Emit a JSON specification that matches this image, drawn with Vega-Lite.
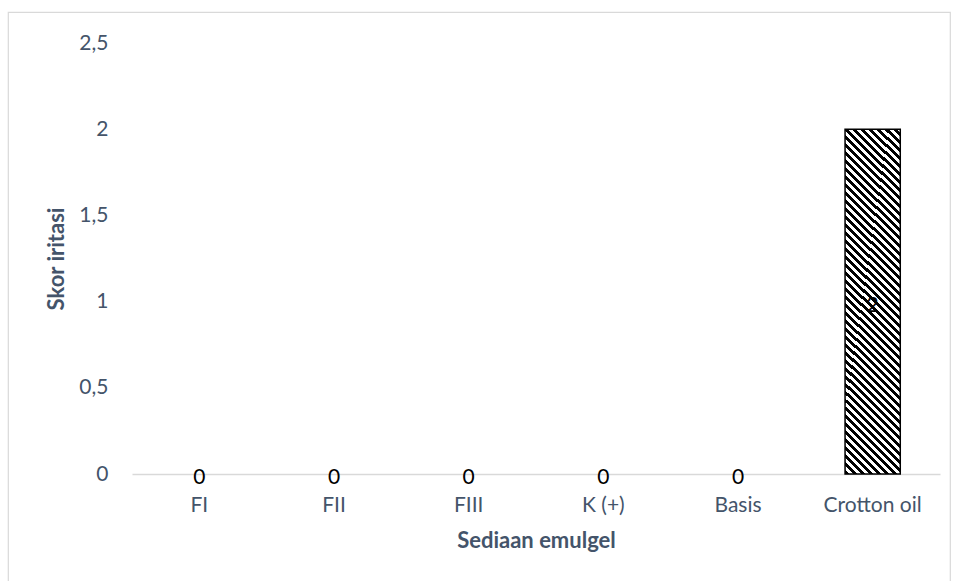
{
  "$schema": "https://vega.github.io/schema/vega-lite/v6.json",
  "autosize": "none",
  "padding": {"left": 8, "top": 12, "right": 5, "bottom": 0},
  "width": 942,
  "height": 575,
  "background": "#ffffff",
  "config": {
    "view": {"stroke": "#D9D9D9", "strokeWidth": 1.2},
    "font": "Lato",
    "axis": {"grid": false, "ticks": false, "tickSize": 0, "labelFont": "Lato", "titleFont": "Lato"}
  },
  "data": {
    "values": [
      {"sediaan": "FI", "skor": 0},
      {"sediaan": "FII", "skor": 0},
      {"sediaan": "FIII", "skor": 0},
      {"sediaan": "K (+)", "skor": 0},
      {"sediaan": "Basis", "skor": 0},
      {"sediaan": "Crotton oil", "skor": 2}
    ]
  },
  "encoding": {
    "x": {
      "field": "sediaan",
      "type": "nominal",
      "sort": null,
      "scale": {"range": [124, 932], "paddingInner": 0.59, "paddingOuter": 0.295},
      "axis": {
        "title": "Sediaan emulgel",
        "orient": "bottom",
        "offset": -113,
        "labelAngle": 0,
        "labelFontSize": 21,
        "labelColor": "#44546A",
        "labelPadding": 20,
        "domainColor": "#D9D9D9",
        "domainWidth": 1.5,
        "titleFontSize": 22,
        "titleFontWeight": "bold",
        "titleColor": "#44546A",
        "titlePadding": 15
      }
    }
  },
  "layer": [
    {
      "mark": {
        "type": "bar",
        "stroke": "#000000",
        "strokeWidth": 1.5,
        "color": {
          "gradient": "linear",
          "x1": 0, "y1": 1, "x2": 0.1797, "y2": -0.1304,
          "stops": [
{"offset":0,"color":"#000"},{"offset":0.01,"color":"#000"},{"offset":0.01,"color":"#fff"},{"offset":0.02,"color":"#fff"},
{"offset":0.02,"color":"#000"},{"offset":0.03,"color":"#000"},{"offset":0.03,"color":"#fff"},{"offset":0.04,"color":"#fff"},
{"offset":0.04,"color":"#000"},{"offset":0.05,"color":"#000"},{"offset":0.05,"color":"#fff"},{"offset":0.06,"color":"#fff"},
{"offset":0.06,"color":"#000"},{"offset":0.07,"color":"#000"},{"offset":0.07,"color":"#fff"},{"offset":0.08,"color":"#fff"},
{"offset":0.08,"color":"#000"},{"offset":0.09,"color":"#000"},{"offset":0.09,"color":"#fff"},{"offset":0.10,"color":"#fff"},
{"offset":0.10,"color":"#000"},{"offset":0.11,"color":"#000"},{"offset":0.11,"color":"#fff"},{"offset":0.12,"color":"#fff"},
{"offset":0.12,"color":"#000"},{"offset":0.13,"color":"#000"},{"offset":0.13,"color":"#fff"},{"offset":0.14,"color":"#fff"},
{"offset":0.14,"color":"#000"},{"offset":0.15,"color":"#000"},{"offset":0.15,"color":"#fff"},{"offset":0.16,"color":"#fff"},
{"offset":0.16,"color":"#000"},{"offset":0.17,"color":"#000"},{"offset":0.17,"color":"#fff"},{"offset":0.18,"color":"#fff"},
{"offset":0.18,"color":"#000"},{"offset":0.19,"color":"#000"},{"offset":0.19,"color":"#fff"},{"offset":0.20,"color":"#fff"},
{"offset":0.20,"color":"#000"},{"offset":0.21,"color":"#000"},{"offset":0.21,"color":"#fff"},{"offset":0.22,"color":"#fff"},
{"offset":0.22,"color":"#000"},{"offset":0.23,"color":"#000"},{"offset":0.23,"color":"#fff"},{"offset":0.24,"color":"#fff"},
{"offset":0.24,"color":"#000"},{"offset":0.25,"color":"#000"},{"offset":0.25,"color":"#fff"},{"offset":0.26,"color":"#fff"},
{"offset":0.26,"color":"#000"},{"offset":0.27,"color":"#000"},{"offset":0.27,"color":"#fff"},{"offset":0.28,"color":"#fff"},
{"offset":0.28,"color":"#000"},{"offset":0.29,"color":"#000"},{"offset":0.29,"color":"#fff"},{"offset":0.30,"color":"#fff"},
{"offset":0.30,"color":"#000"},{"offset":0.31,"color":"#000"},{"offset":0.31,"color":"#fff"},{"offset":0.32,"color":"#fff"},
{"offset":0.32,"color":"#000"},{"offset":0.33,"color":"#000"},{"offset":0.33,"color":"#fff"},{"offset":0.34,"color":"#fff"},
{"offset":0.34,"color":"#000"},{"offset":0.35,"color":"#000"},{"offset":0.35,"color":"#fff"},{"offset":0.36,"color":"#fff"},
{"offset":0.36,"color":"#000"},{"offset":0.37,"color":"#000"},{"offset":0.37,"color":"#fff"},{"offset":0.38,"color":"#fff"},
{"offset":0.38,"color":"#000"},{"offset":0.39,"color":"#000"},{"offset":0.39,"color":"#fff"},{"offset":0.40,"color":"#fff"},
{"offset":0.40,"color":"#000"},{"offset":0.41,"color":"#000"},{"offset":0.41,"color":"#fff"},{"offset":0.42,"color":"#fff"},
{"offset":0.42,"color":"#000"},{"offset":0.43,"color":"#000"},{"offset":0.43,"color":"#fff"},{"offset":0.44,"color":"#fff"},
{"offset":0.44,"color":"#000"},{"offset":0.45,"color":"#000"},{"offset":0.45,"color":"#fff"},{"offset":0.46,"color":"#fff"},
{"offset":0.46,"color":"#000"},{"offset":0.47,"color":"#000"},{"offset":0.47,"color":"#fff"},{"offset":0.48,"color":"#fff"},
{"offset":0.48,"color":"#000"},{"offset":0.49,"color":"#000"},{"offset":0.49,"color":"#fff"},{"offset":0.50,"color":"#fff"},
{"offset":0.50,"color":"#000"},{"offset":0.51,"color":"#000"},{"offset":0.51,"color":"#fff"},{"offset":0.52,"color":"#fff"},
{"offset":0.52,"color":"#000"},{"offset":0.53,"color":"#000"},{"offset":0.53,"color":"#fff"},{"offset":0.54,"color":"#fff"},
{"offset":0.54,"color":"#000"},{"offset":0.55,"color":"#000"},{"offset":0.55,"color":"#fff"},{"offset":0.56,"color":"#fff"},
{"offset":0.56,"color":"#000"},{"offset":0.57,"color":"#000"},{"offset":0.57,"color":"#fff"},{"offset":0.58,"color":"#fff"},
{"offset":0.58,"color":"#000"},{"offset":0.59,"color":"#000"},{"offset":0.59,"color":"#fff"},{"offset":0.60,"color":"#fff"},
{"offset":0.60,"color":"#000"},{"offset":0.61,"color":"#000"},{"offset":0.61,"color":"#fff"},{"offset":0.62,"color":"#fff"},
{"offset":0.62,"color":"#000"},{"offset":0.63,"color":"#000"},{"offset":0.63,"color":"#fff"},{"offset":0.64,"color":"#fff"},
{"offset":0.64,"color":"#000"},{"offset":0.65,"color":"#000"},{"offset":0.65,"color":"#fff"},{"offset":0.66,"color":"#fff"},
{"offset":0.66,"color":"#000"},{"offset":0.67,"color":"#000"},{"offset":0.67,"color":"#fff"},{"offset":0.68,"color":"#fff"},
{"offset":0.68,"color":"#000"},{"offset":0.69,"color":"#000"},{"offset":0.69,"color":"#fff"},{"offset":0.70,"color":"#fff"},
{"offset":0.70,"color":"#000"},{"offset":0.71,"color":"#000"},{"offset":0.71,"color":"#fff"},{"offset":0.72,"color":"#fff"},
{"offset":0.72,"color":"#000"},{"offset":0.73,"color":"#000"},{"offset":0.73,"color":"#fff"},{"offset":0.74,"color":"#fff"},
{"offset":0.74,"color":"#000"},{"offset":0.75,"color":"#000"},{"offset":0.75,"color":"#fff"},{"offset":0.76,"color":"#fff"},
{"offset":0.76,"color":"#000"},{"offset":0.77,"color":"#000"},{"offset":0.77,"color":"#fff"},{"offset":0.78,"color":"#fff"},
{"offset":0.78,"color":"#000"},{"offset":0.79,"color":"#000"},{"offset":0.79,"color":"#fff"},{"offset":0.80,"color":"#fff"},
{"offset":0.80,"color":"#000"},{"offset":0.81,"color":"#000"},{"offset":0.81,"color":"#fff"},{"offset":0.82,"color":"#fff"},
{"offset":0.82,"color":"#000"},{"offset":0.83,"color":"#000"},{"offset":0.83,"color":"#fff"},{"offset":0.84,"color":"#fff"},
{"offset":0.84,"color":"#000"},{"offset":0.85,"color":"#000"},{"offset":0.85,"color":"#fff"},{"offset":0.86,"color":"#fff"},
{"offset":0.86,"color":"#000"},{"offset":0.87,"color":"#000"},{"offset":0.87,"color":"#fff"},{"offset":0.88,"color":"#fff"},
{"offset":0.88,"color":"#000"},{"offset":0.89,"color":"#000"},{"offset":0.89,"color":"#fff"},{"offset":0.90,"color":"#fff"},
{"offset":0.90,"color":"#000"},{"offset":0.91,"color":"#000"},{"offset":0.91,"color":"#fff"},{"offset":0.92,"color":"#fff"},
{"offset":0.92,"color":"#000"},{"offset":0.93,"color":"#000"},{"offset":0.93,"color":"#fff"},{"offset":0.94,"color":"#fff"},
{"offset":0.94,"color":"#000"},{"offset":0.95,"color":"#000"},{"offset":0.95,"color":"#fff"},{"offset":0.96,"color":"#fff"},
{"offset":0.96,"color":"#000"},{"offset":0.97,"color":"#000"},{"offset":0.97,"color":"#fff"},{"offset":0.98,"color":"#fff"},
{"offset":0.98,"color":"#000"},{"offset":0.99,"color":"#000"},{"offset":0.99,"color":"#fff"},{"offset":1,"color":"#fff"}
          ]
        }
      },
      "encoding": {
        "y": {
          "field": "skor",
          "type": "quantitative",
          "scale": {"domain": [0, 2.5], "range": [462, 31], "nice": false, "zero": true},
          "axis": {
            "title": "Skor iritasi",
            "orient": "left",
            "offset": -104,
            "values": [0, 0.5, 1, 1.5, 2, 2.5],
            "format": "~g",
            "labelExpr": "replace(datum.label, '.', ',')",
            "domain": false,
            "labelFontSize": 21,
            "labelColor": "#44546A",
            "labelPadding": 4,
            "titleFontSize": 22,
            "titleFontWeight": "bold",
            "titleColor": "#44546A",
            "titlePadding": 10
          }
        },
        "strokeOpacity": {"condition": {"test": "datum.skor === 0", "value": 0}, "value": 1}
      }
    },
    {
      "transform": [{"calculate": "datum.skor / 2", "as": "labelPos"}],
      "mark": {"type": "text", "fontSize": 21, "color": "#000000", "baseline": "middle", "align": "center", "dy": 4},
      "encoding": {
        "y": {"field": "labelPos", "type": "quantitative"},
        "text": {"field": "skor", "type": "quantitative"}
      }
    }
  ]
}
